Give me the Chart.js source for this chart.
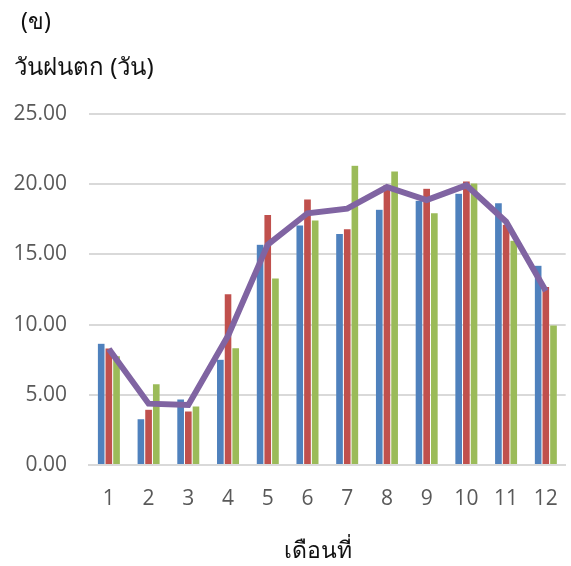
<!DOCTYPE html>
<html>
<head>
<meta charset="utf-8">
<script src="https://cdn.jsdelivr.net/npm/chart.js@4"></script>
<style>
  body { margin: 0; background: #fff; }
  #wrap { position: relative; width: 571px; height: 566px; }
  #rainChart { position: absolute; left: 0; top: 0; }
  .lbl { position: absolute; font-family: "Noto Sans", "DejaVu Sans", sans-serif; color: #111; font-size: 23px; white-space: nowrap; }
</style>
</head>
<body>
<div id="wrap">
  <canvas id="rainChart" width="571" height="566"></canvas>
  <div class="lbl" style="left:21px; top:3px;">(ข)</div>
  <div class="lbl" style="left:14px; top:47px; font-size:24px;">วันฝนตก (วัน)</div>
  <div class="lbl" style="left:284px; top:532px;">เดือนที่</div>
</div>
<script>
const months = ["1", "2", "3", "4", "5", "6", "7", "8", "9", "10", "11", "12"];
const rainA = [8.67, 3.30, 4.70, 7.53, 15.72, 17.09, 16.48, 18.21, 18.85, 19.35, 18.68, 14.22];
const rainB = [8.33, 3.97, 3.85, 12.20, 17.85, 18.95, 16.83, 19.97, 19.71, 20.23, 17.14, 12.72];
const rainC = [7.78, 5.79, 4.20, 8.36, 13.32, 17.45, 21.35, 20.94, 17.97, 20.09, 16.00, 9.97];
const rainAvg = [8.26, 4.37, 4.27, 9.20, 15.70, 17.93, 18.26, 19.80, 18.87, 19.92, 17.33, 12.39];

const tickFont = { family: "'Open Sans', 'Noto Sans', sans-serif", size: 21 };

function barSet(data, color) {
    return {
        type: "bar",
        data: data,
        backgroundColor: color,
        borderColor: "rgba(255,255,255,0.35)",
        borderWidth: 0.5,
        order: 1
    };
}

new Chart(document.getElementById("rainChart"), {
    data: {
        labels: months,
        datasets: [
            barSet(rainA, "#4f81bd"),
            barSet(rainB, "#c0504d"),
            barSet(rainC, "#9bbb59"),
            {
                type: "line",
                data: rainAvg,
                borderColor: "#8064a2",
                borderWidth: 6,
                pointRadius: 0,
                tension: 0,
                fill: false,
                order: 0
            }
        ]
    },
    options: {
        responsive: false,
        animation: false,
        layout: { padding: { top: 114, right: 4, left: 0, bottom: 0 } },
        plugins: { legend: { display: false }, tooltip: { enabled: false } },
        datasets: { bar: { categoryPercentage: 0.58, barPercentage: 1 } },
        scales: {
            x: {
                grid: { display: false },
                border: { color: "#d9d9d9", width: 2 },
                ticks: { color: "#595959", font: tickFont, padding: 13, maxRotation: 0 },
                afterFit: s => { s.height = 101; }
            },
            y: {
                min: 0,
                max: 25,
                grid: { color: "#d9d9d9", lineWidth: 2, drawTicks: false },
                border: { display: false },
                ticks: {
                    stepSize: 5,
                    color: "#595959",
                    font: tickFont,
                    padding: 22,
                    callback: v => v.toFixed(2)
                },
                afterFit: s => { s.width = 89; }
            }
        }
    }
});
</script>
</body>
</html>
